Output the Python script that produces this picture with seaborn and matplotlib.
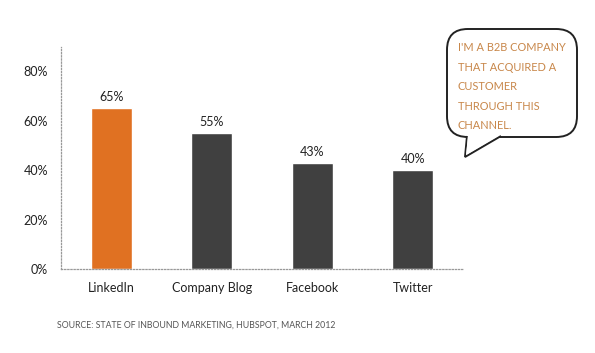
import matplotlib
matplotlib.use("Agg")
import matplotlib.pyplot as plt
import seaborn as sns
import pandas as pd
from matplotlib.patches import FancyBboxPatch, Polygon

# data
channels = ["LinkedIn", "Company Blog", "Facebook", "Twitter"]
shares = [65, 55, 43, 40]
y_ticks = [0, 20, 40, 60, 80]
bubble_text = "I'M A B2B COMPANY\nTHAT ACQUIRED A\nCUSTOMER\nTHROUGH THIS\nCHANNEL."
source = "SOURCE: STATE OF INBOUND MARKETING, HUBSPOT, MARCH 2012"

df = pd.DataFrame({"Channel": channels, "Share": shares})
my_colors = {"LinkedIn": "#E07122", "Company Blog": "#404040",
             "Facebook": "#404040", "Twitter": "#404040"}

sns.set_style("white")
plt.rcParams["font.family"] = ["Lato", "DejaVu Sans"]

fig = plt.figure(figsize=(5.95, 3.53), dpi=100)
ax = fig.add_axes([61 / 595, 1 - 269 / 353, (463 - 61) / 595, (269 - 47) / 353])

sns.barplot(data=df, x="Channel", y="Share", hue="Channel", palette=my_colors,
            width=0.41, saturation=1, legend=False, ax=ax)

for i, v in enumerate(shares):
    ax.text(i, v + 2.0, f"{v}%", ha="center", va="bottom", fontsize=9, color="#222222")

ax.set_ylim(0, 89.7)
ax.set_xlim(-0.5, 3.5)
ax.set_yticks(y_ticks)
ax.set_yticklabels([f"{t}%" for t in y_ticks], fontsize=9, color="#222222")
ax.tick_params(axis="x", labelsize=9, colors="#222222", length=0, pad=9.5)
ax.tick_params(axis="y", length=0, pad=9.5)
ax.set_xlabel("")
ax.set_ylabel("")

for side in ["top", "right"]:
    ax.spines[side].set_visible(False)
for side in ["left", "bottom"]:
    ax.spines[side].set_linestyle((0, (1, 1.5)))
    ax.spines[side].set_color("#999999")
    ax.spines[side].set_linewidth(0.9)

# speech bubble (figure pixel coords -> fraction)
W, H = 595, 353
def fx(px):
    return px / W
def fy(py):
    return 1 - py / H

box = FancyBboxPatch((fx(447), fy(137)), fx(577) - fx(447), fy(29) - fy(137),
                     boxstyle="round,pad=0,rounding_size=0.035",
                     transform=fig.transFigure, facecolor="white",
                     edgecolor="#222222", linewidth=1.4, mutation_aspect=W / H)
fig.patches.append(box)
tail = Polygon([(fx(467), fy(136)), (fx(465), fy(157)), (fx(501), fy(136))],
               closed=False, transform=fig.transFigure, facecolor="white",
               edgecolor="#222222", linewidth=1.4)
fig.patches.append(tail)
fig.patches.append(Polygon([(fx(468), fy(135.5)), (fx(466), fy(155)), (fx(499), fy(135.5))],
                           closed=True, transform=fig.transFigure, facecolor="white",
                           edgecolor="none"))

fig.text(fx(458), fy(42), bubble_text, ha="left", va="top", fontsize=7.9,
         color="#C8874A", linespacing=1.95)

fig.text(fx(57), fy(325), source, ha="left", va="center", fontsize=6.3,
         color="#555555")

fig.savefig("out.png", dpi=100, facecolor="white")
